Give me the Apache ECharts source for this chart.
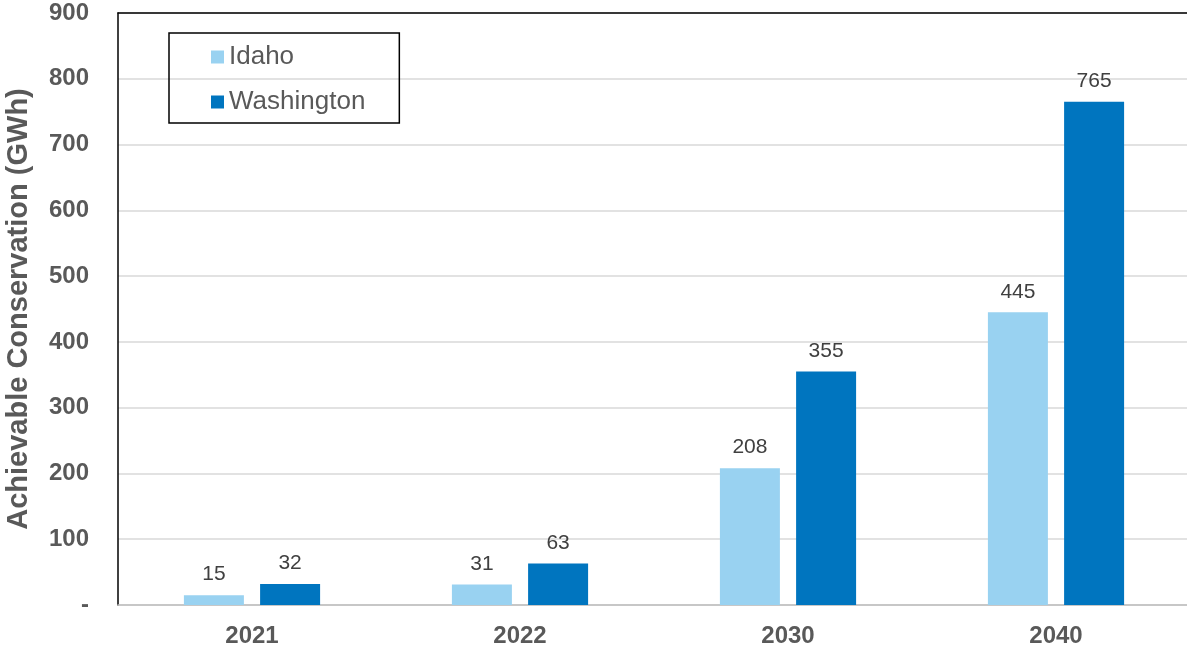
<!DOCTYPE html>
<html><head><meta charset="utf-8">
<script src="https://cdn.jsdelivr.net/npm/echarts@6/dist/echarts.min.js"></script>
<style>html,body{margin:0;padding:0;background:#fff}#c{width:1187px;height:650px}</style>
</head><body><div id="c"></div>
<script>
const categories = ['2021', '2022', '2030', '2040'];
const idaho = [15, 31, 208, 445];
const washington = [32, 63, 355, 765];
const yTicks = [0, 100, 200, 300, 400, 500, 600, 700, 800, 900];

const FONT = 'Liberation Sans, Arial, sans-serif';
const chart = echarts.init(document.getElementById('c'));
const lbl = {show: true, position: 'top', distance: 10, color: '#404040', fontSize: 21, fontFamily: FONT};
chart.setOption({
  animation: false,
  grid: {left: 118, top: 13, width: 1072, bottom: 45, containLabel: false, outerBoundsMode: 'none'},
  legend: {
    left: 169, top: 33,
    orient: 'vertical',
    borderColor: '#000', borderWidth: 1.5,
    padding: [11, 34, 8, 42],
    itemGap: 19, itemWidth: 13, itemHeight: 13, icon: 'rect',
    textStyle: {fontSize: 26, color: '#595959', fontFamily: FONT},
    data: ['Idaho', 'Washington']
  },
  xAxis: [{
    type: 'category', data: categories,
    axisLine: {lineStyle: {color: '#BFBFBF', width: 1.5}},
    axisTick: {show: false},
    axisLabel: {fontSize: 24, fontWeight: 'bold', color: '#595959', margin: 19, fontFamily: FONT}
  }, {
    type: 'category', data: categories, position: 'top',
    axisLine: {lineStyle: {color: '#000', width: 1.5}},
    axisTick: {show: false}, axisLabel: {show: false}
  }],
  yAxis: {
    type: 'value', min: 0, max: 900, interval: 100,
    name: 'Achievable Conservation (GWh)', nameLocation: 'middle', nameGap: 85,
    nameTextStyle: {fontSize: 29, fontWeight: 'bold', color: '#595959', fontFamily: FONT},
    axisLine: {show: true, lineStyle: {color: '#000', width: 1.5}},
    axisTick: {show: false},
    splitLine: {lineStyle: {color: '#D9D9D9', width: 1.5}},
    axisLabel: {fontSize: 24, fontWeight: 'bold', color: '#595959', margin: 29, fontFamily: FONT,
      formatter: v => yTicks.includes(v) ? (v === 0 ? '-' : String(v)) : ''}
  },
  series: [
    {name: 'Idaho', type: 'bar', data: idaho, barWidth: 60, barGap: '27%', itemStyle: {color: '#99D2F1'}, label: lbl},
    {name: 'Washington', type: 'bar', data: washington, barWidth: 60, itemStyle: {color: '#0075BF'}, label: lbl}
  ]
});
</script></body></html>
